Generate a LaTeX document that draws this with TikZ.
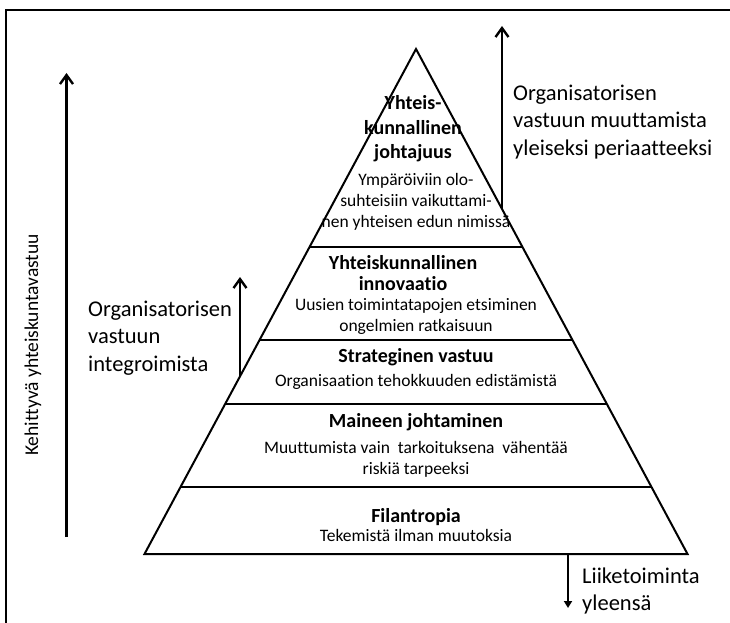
\documentclass[tikz,border=0pt]{standalone}
\usepackage{fontspec}
\setmainfont{Carlito}[Ligatures=NoCommon]
\usetikzlibrary{arrows.meta,calc}

\begin{document}
\begin{tikzpicture}[x=1pt, y=-1pt,
	edge/.style = {line width=2pt},
	up/.style = {line width=2.4pt, -{Straight Barb[length=9pt,width=13pt]}},
	side/.style = {align=left, inner sep=0pt, anchor=west, font=\fontsize{22.5}{27.5}\selectfont},
	title/.style = {align=center, inner sep=0pt, font=\fontsize{20}{24.5}\selectfont\bfseries},
	desc/.style = {align=center, inner sep=0pt, font=\fontsize{17.5}{21}\selectfont}]
	\useasboundingbox (0,0) rectangle (730,623);
	% frame
	\draw[edge] (6,623) -- (6,10) -- (730,10);
	% pyramid
	\coordinate (apex) at (416,49);
	\coordinate (bl) at (144.5,554);
	\coordinate (br) at (687.5,554);
	\draw[edge] (bl) -- (apex) -- (br) -- cycle;
	\foreach \t [count=\i] in {0.392,0.576,0.703,0.867}
		\draw[edge] ($(apex)!\t!(bl)$) coordinate (l\i) -- ($(apex)!\t!(br)$) coordinate (r\i);
	% levels
	\node[title] (t1) at (413,129) {Yhteis-\\kunnallinen\\johtajuus};
	\node[desc] (d1) at (416,202) {Ympäröiviin olo-\\suhteisiin vaikuttami-\\nen yhteisen edun nimissä};
	\node[title, font=\fontsize{20}{21}\selectfont\bfseries] (t2) at (403,273) {Yhteiskunnallinen\\innovaatio};
	\node[desc] (d2) at (416,316) {Uusien toimintatapojen etsiminen\\ongelmien ratkaisuun};
	\node[title] (t3) at (416,357) {Strateginen vastuu};
	\node[desc] (d3) at (416,382) {Organisaation tehokkuuden edistämistä};
	\node[title] (t4) at (416,422) {Maineen johtaminen};
	\node[desc] (d4) at (416,459) {Muuttumista vain \ tarkoituksena \ vähentää\\riskiä tarpeeksi};
	\node[title] (t5) at (416,517) {Filantropia};
	\node[desc] (d5) at (416,535) {Tekemistä ilman muutoksia};
	% side labels
	\node[side] (s1) at (513,122) {Organisatorisen\\vastuun muuttamista\\yleiseksi periaatteeksi};
	\node[side] (s2) at (88,338) {Organisatorisen\\vastuun\\integroimista};
	\node[side] (s3) at (582,591) {Liiketoiminta\\yleensä};
	\node[inner sep=0pt, rotate=90, font=\fontsize{19.5}{24}\selectfont] (s4) at (33,345) {Kehittyvä yhteiskuntavastuu};
	% arrows
	\coordinate (a1) at (66.5,537);
	\coordinate (b1) at (66.5,73);
	\coordinate (a2) at (502,209);
	\coordinate (b2) at (502,26);
	\coordinate (a3) at (240,376);
	\coordinate (b3) at (240,277);
	\coordinate (a4) at (568,554);
	\coordinate (b4) at (568,608);
	\draw[up] (a1) -- (b1);
	\draw[up] (a2) -- (b2);
	\draw[up] (a3) -- (b3);
	\draw[line width=2pt, -{Triangle[length=7pt,width=8pt]}] (a4) -- (b4);
\end{tikzpicture}
\end{document}
